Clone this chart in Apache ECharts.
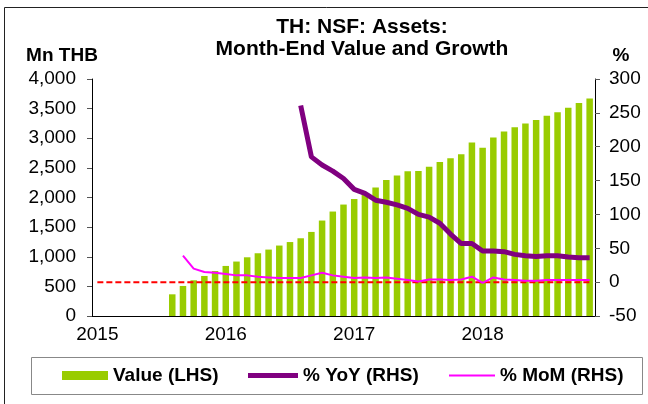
<!DOCTYPE html>
<html>
<head>
<meta charset="utf-8">
<script src="https://cdn.jsdelivr.net/npm/echarts@6/dist/echarts.min.js"></script>
<style>
  html, body { margin: 0; padding: 0; background: #fff; }
  #chart { width: 648px; height: 404px; }
</style>
</head>
<body>
<div id="chart"></div>
<script>
// monthly categories, Jan 2015 .. Nov 2018
const months = [
  '2015-01','2015-02','2015-03','2015-04','2015-05','2015-06','2015-07','2015-08','2015-09','2015-10','2015-11','2015-12',
  '2016-01','2016-02','2016-03','2016-04','2016-05','2016-06','2016-07','2016-08','2016-09','2016-10','2016-11','2016-12',
  '2017-01','2017-02','2017-03','2017-04','2017-05','2017-06','2017-07','2017-08','2017-09','2017-10','2017-11','2017-12',
  '2018-01','2018-02','2018-03','2018-04','2018-05','2018-06','2018-07','2018-08','2018-09','2018-10','2018-11'
];

// Mn THB, Jan 2015 .. Nov 2018 (first data Aug 2015)
const assetValue = [
  null, null, null, null, null, null, null, 366, 507, 603, 676, 760,
  845, 919, 991, 1059, 1121, 1189, 1248, 1312, 1419, 1611, 1763, 1881,
  1974, 2067, 2168, 2295, 2371, 2444, 2449, 2517, 2601, 2664, 2731, 2929,
  2838, 3013, 3114, 3187, 3249, 3310, 3378, 3440, 3513, 3593, 3672
];

// % YoY, first data Aug 2016
const yoy = [
  null, null, null, null, null, null, null, null, null, null, null, null,
  null, null, null, null, null, null, null, 261, 185, 173, 164, 153,
  137, 131, 121, 118, 114, 109, 100, 96, 87, 71, 57, 57,
  46, 46, 45, 41, 39, 38, 39, 39, 37, 36, 36
];

// % MoM, first data Sep 2015
const mom = [
  null, null, null, null, null, null, null, null, 39, 20, 15, 14,
  12, 10, 10, 8, 7, 6, 6, 6, 10, 14, 10, 8,
  6, 7, 6, 7, 5, 3, 1, 4, 4, 3, 4, 8,
  -1, 7, 4, 3, 2, 2, 3, 3, 3, 3, 3
];

// zero reference line on the RHS
const zeroLine = months.map(() => 0);

const chart = echarts.init(document.getElementById('chart'));
const font = 'Liberation Sans, Arial, sans-serif';
const legendText = { fontSize: 19, fontWeight: 'bold', color: '#000', fontFamily: font };

const option = {
  animation: false,
  textStyle: { fontFamily: font, color: '#000' },
  title: {
    text: 'TH: NSF: Assets:\nMonth-End Value and Growth',
    left: 357,
    top: 11,
    textAlign: 'center',
    textStyle: { fontSize: 21, fontWeight: 'bold', lineHeight: 22, color: '#000', fontFamily: font }
  },
  graphic: [
    {
      type: 'rect',
      shape: { x: 4.5, y: 7.5, width: 700, height: 500 },
      style: { fill: null, stroke: '#222', lineWidth: 1 },
      silent: true
    },
    {
      type: 'rect',
      shape: { x: 31.5, y: 357.5, width: 611, height: 37 },
      style: { fill: null, stroke: '#888', lineWidth: 1 },
      silent: true
    }
  ],
  // one legend per item so each swatch can have its own size
  legend: [
    {
      data: [{ name: 'Value (LHS)', icon: 'rect' }],
      left: 62, top: 366, padding: 0,
      itemWidth: 46, itemHeight: 9,
      textStyle: legendText
    },
    {
      data: [{ name: '% YoY (RHS)', icon: 'rect' }],
      left: 248, top: 366, padding: 0,
      itemWidth: 50, itemHeight: 5,
      textStyle: legendText
    },
    {
      data: [{ name: '% MoM (RHS)', icon: 'rect' }],
      left: 449, top: 366, padding: 0,
      itemWidth: 46, itemHeight: 2,
      textStyle: legendText
    }
  ],
  grid: { left: 92, right: 53, top: 79, bottom: 88 },
  xAxis: {
    type: 'category',
    data: months,
    boundaryGap: true,
    axisLine: { lineStyle: { color: '#000', width: 1 } },
    axisTick: {
      interval: (i, v) => v.slice(5) === '01',
      length: 5,
      lineStyle: { color: '#888' }
    },
    axisLabel: {
      interval: (i, v) => v.slice(5) === '01',
      formatter: (v) => v.slice(0, 4),
      fontSize: 19,
      color: '#000',
      margin: 9
    },
    splitLine: { show: false }
  },
  yAxis: [
    {
      type: 'value',
      min: 0,
      max: 4000,
      interval: 500,
      name: 'Mn THB',
      nameLocation: 'end',
      nameGap: 14,
      nameTextStyle: { fontSize: 19, fontWeight: 'bold', color: '#000', align: 'center', padding: [0, 60, 0, 0] },
      axisLine: { show: true, lineStyle: { color: '#000' } },
      axisTick: { show: true, length: 5, lineStyle: { color: '#555' } },
      axisLabel: {
        fontSize: 19,
        color: '#000',
        margin: 16,
        formatter: (v) => v.toLocaleString('en-US')
      },
      splitLine: { show: false }
    },
    {
      type: 'value',
      min: -50,
      max: 300,
      interval: 50,
      name: '%',
      nameLocation: 'end',
      nameGap: 14,
      nameTextStyle: { fontSize: 19, fontWeight: 'bold', color: '#000', align: 'center', padding: [0, 0, 0, 52] },
      axisLine: { show: true, lineStyle: { color: '#000' } },
      axisTick: { show: true, length: 5, lineStyle: { color: '#555' } },
      axisLabel: { fontSize: 19, color: '#000', margin: 14 },
      splitLine: { show: false }
    }
  ],
  series: [
    {
      name: 'Value (LHS)',
      type: 'bar',
      yAxisIndex: 0,
      data: assetValue,
      barWidth: 6.5,
      itemStyle: { color: '#99CC00' }
    },
    {
      name: 'zero',
      type: 'line',
      yAxisIndex: 1,
      data: zeroLine,
      symbol: 'none',
      lineStyle: { color: '#FF0000', width: 2, type: [6, 3] },
      z: 3
    },
    {
      name: '% MoM (RHS)',
      type: 'line',
      yAxisIndex: 1,
      data: mom,
      symbol: 'none',
      lineStyle: { color: '#FF00FF', width: 2 },
      itemStyle: { color: '#FF00FF' },
      z: 4
    },
    {
      name: '% YoY (RHS)',
      type: 'line',
      yAxisIndex: 1,
      data: yoy,
      symbol: 'none',
      lineStyle: { color: '#800080', width: 5 },
      itemStyle: { color: '#800080' },
      z: 5
    }
  ]
};

chart.setOption(option);
</script>
</body>
</html>
